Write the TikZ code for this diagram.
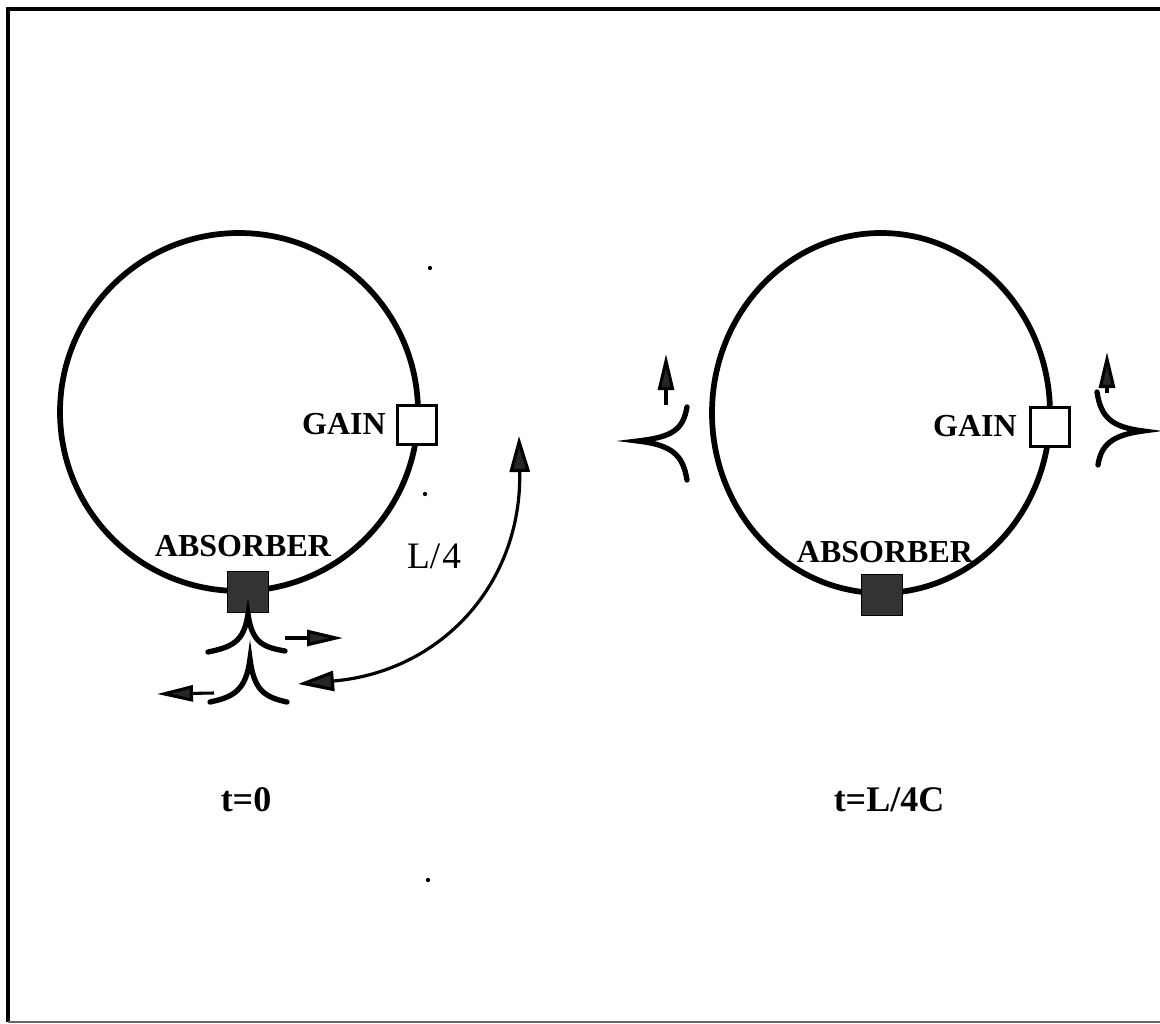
\documentclass[tikz,border=0pt]{standalone}
\usepackage{fontspec}
\setmainfont{Liberation Serif}
\usetikzlibrary{arrows.meta}
\tikzset{
  ring/.style={line width=4.3pt},
  absbox/.style={draw=black, fill=black!80, line width=1pt, minimum size=30.5pt, inner sep=0pt},
  gainbox/.style={draw=black, fill=white, line width=1.8pt, minimum size=29pt, inner sep=0pt},
  lbl/.style={font=\fontsize{24}{28}\selectfont\bfseries, inner sep=0pt},
  captionlbl/.style={font=\fontsize{27}{31}\selectfont\bfseries, inner sep=0pt},
  pulse/.style={line width=4pt, line cap=round},
  smalltip/.style={-{Triangle[length=27pt,width=12pt,fill=black!85]}, line width=2.3pt},
  arctip/.style={{Triangle[length=27pt,width=15pt,fill=black!85]}-{Triangle[length=27pt,width=15pt,fill=black!85]}, line width=2.4pt},
  frameline/.style={line width=3pt},
  speck/.style={fill=black, circle, inner sep=0pt, minimum size=3.2pt}
}
\begin{document}
\begin{tikzpicture}[x=0.75pt,y=-0.75pt]
\useasboundingbox (0,0) rectangle (1160,1024);
% frame
\coordinate (f1) at (8,1022);
\coordinate (f2) at (8,9);
\coordinate (f3) at (1160,9);
\coordinate (f4) at (1160,1022);
\draw[frameline] (f1) -- (f2) -- (f3);
\draw[line width=1.2pt, black!60] (f1) -- (f4);

% ---------- left ring ----------
\coordinate (cl) at (239,412);
\draw[ring] (cl) ellipse [x radius=179, y radius=179];
\node[gainbox] (gainL) at (417,425) {};
\node[absbox] (absL) at (248,592) {};
\node[lbl, anchor=east] (gtL) at (386,424) {GAIN};
\node[lbl] (atL) at (243,546) {ABSORBER};
\node[font=\fontsize{28}{32}\selectfont, inner sep=0pt] (quarter) at (434,556) {L/\kern1.5pt4};

% pulses below absorber
\draw[pulse] (208,652) .. controls (232,647) and (244,642) .. (248,614)
             .. controls (252,642) and (262,647) .. (285,651);
\coordinate (ua1) at (285,638);
\coordinate (ua2) at (343,638);
\draw[smalltip] (ua1) -- (ua2);
\draw[pulse] (210,702) .. controls (234,697) and (246,690) .. (250,659)
             .. controls (254,690) and (264,697) .. (287,702);
\coordinate (la1) at (214,693);
\coordinate (la2) at (157,694);
\draw[smalltip] (la1) -- (la2);

% L/4 arc arrow
\coordinate (arcA) at (298,684);
\coordinate (arcB) at (519,436);
\draw[arctip] (arcA) .. controls (440,672) and (522,585) .. (arcB);

% ---------- right ring ----------
\coordinate (cr) at (881,413);
\draw[ring] (cr) ellipse [x radius=169, y radius=180];
\node[gainbox] (gainR) at (1050,427) {};
\node[absbox] (absR) at (882,595) {};
\node[lbl, anchor=east] (gtR) at (1017,426) {GAIN};
\node[lbl] (atR) at (885,552) {ABSORBER};

% pulses beside right ring
\draw[pulse] (687,407) .. controls (683,430) and (672,437) .. (638,441)
             .. controls (672,445) and (683,455) .. (687,480);
\coordinate (va1) at (666,405);
\coordinate (va2) at (666,354);
\draw[smalltip] (va1) -- (va2);
\draw[pulse] (1097,392) .. controls (1101,418) and (1112,427) .. (1143,431)
             .. controls (1112,435) and (1101,445) .. (1098,465);
\coordinate (vb1) at (1107,393);
\coordinate (vb2) at (1107,352);
\draw[smalltip] (vb1) -- (vb2);

% captions
\node[captionlbl] (t0) at (246,800) {t=0};
\node[captionlbl] (t1) at (889,800) {t=L/4C};

% specks
\node[speck] (s1) at (430,268) {};
\node[speck] (s2) at (425,494) {};
\node[speck] (s3) at (428,880) {};
\end{tikzpicture}
\end{document}
